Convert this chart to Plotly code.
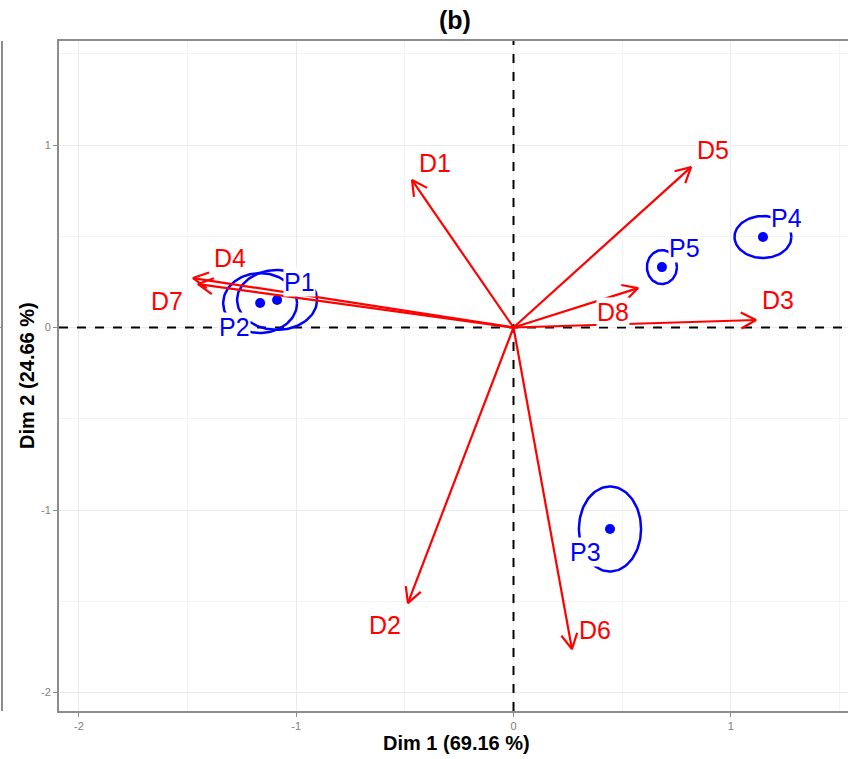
import numpy as np
import plotly.graph_objects as go

# ---------------- data ----------------
var_names = ["D1", "D2", "D3", "D4", "D5", "D6", "D7", "D8"]
var_x = [-0.467, -0.486, 1.116, -1.475, 0.817, 0.269, -1.452, 0.573]
var_y = [0.808, -1.510, 0.041, 0.271, 0.879, -1.762, 0.238, 0.216]
var_lab_x = [-0.361, -0.591, 1.217, -1.305, 0.918, 0.375, -1.595, 0.458]
var_lab_y = [0.901, -1.630, 0.151, 0.381, 0.973, -1.658, 0.145, 0.085]

ind_names = ["P1", "P2", "P3", "P4", "P5"]
ind_x = [-1.088, -1.166, 0.444, 1.148, 0.683]
ind_y = [0.151, 0.134, -1.104, 0.496, 0.331]
ind_lab_x = [-0.983, -1.282, 0.329, 1.258, 0.789]
ind_lab_y = [0.249, 0.003, -1.230, 0.600, 0.436]
ell_rx = [0.184, 0.170, 0.143, 0.131, 0.069]
ell_ry = [0.164, 0.164, 0.233, 0.115, 0.093]

x_ticks = [-2, -1, 0, 1]
y_ticks = [-2, -1, 0, 1]
title_text = "(b)"
x_title = "Dim 1 (69.16 %)"
y_title = "Dim 2 (24.66 %)"

# ---------------- layout geometry ----------------
W, H = 848, 759
ML, MR, MT, MB = 59, 0, 41, 48
PW, PH = W - ML - MR, H - MT - MB
x_range = [-2.0916, 1.5393]
y_range = [-2.1014, 1.5699]
sx = PW / (x_range[1] - x_range[0])
sy = PH / (y_range[1] - y_range[0])

def px2paper_x(px):
    return (px - ML) / PW

def py2paper_y(py):
    return (H - MB - py) / PH

RED = "#FF0000"
BLUE = "#0000FF"
FONT = "Liberation Sans, Arial"

fig = go.Figure()

# dashed reference lines
fig.add_trace(go.Scatter(x=x_range, y=[0, 0], mode="lines",
                         line=dict(color="black", width=2, dash="dash"),
                         hoverinfo="skip", showlegend=False))
fig.add_trace(go.Scatter(x=[0, 0], y=y_range, mode="lines",
                         line=dict(color="black", width=2, dash="dash"),
                         hoverinfo="skip", showlegend=False))

# ellipses
t = np.linspace(0, 2 * np.pi, 120)
for cx, cy, rx, ry in zip(ind_x, ind_y, ell_rx, ell_ry):
    fig.add_trace(go.Scatter(x=cx + rx * np.cos(t), y=cy + ry * np.sin(t),
                             mode="lines", line=dict(color=BLUE, width=2.5),
                             hoverinfo="skip", showlegend=False))

# points
fig.add_trace(go.Scatter(x=ind_x, y=ind_y, mode="markers",
                         marker=dict(color=BLUE, size=10),
                         hoverinfo="skip", showlegend=False))

# arrows (shaft + open arrowhead computed in pixel space)
head_len = 17.0
head_ang = np.deg2rad(28)
for tx, ty in zip(var_x, var_y):
    px, py = tx * sx, ty * sy
    ang = np.arctan2(py, px)
    hx, hy = [], []
    for s in (1, -1):
        a = ang + np.pi + s * head_ang
        hx.append(tx + head_len * np.cos(a) / sx)
        hy.append(ty + head_len * np.sin(a) / sy)
    xs = [0, tx, None, hx[0], tx, hx[1]]
    ys = [0, ty, None, hy[0], ty, hy[1]]
    fig.add_trace(go.Scatter(x=xs, y=ys, mode="lines",
                             line=dict(color=RED, width=2.2),
                             hoverinfo="skip", showlegend=False))

annotations = []
for n, lx, ly in zip(var_names, var_lab_x, var_lab_y):
    annotations.append(dict(x=lx, y=ly, xref="x", yref="y", text=n, showarrow=False,
                            font=dict(family=FONT, size=25, color=RED),
                            bgcolor="white", borderpad=0))
for n, lx, ly in zip(ind_names, ind_lab_x, ind_lab_y):
    annotations.append(dict(x=lx, y=ly, xref="x", yref="y", text=n, showarrow=False,
                            font=dict(family=FONT, size=25, color=BLUE),
                            bgcolor="white", borderpad=0))

annotations.append(dict(x=px2paper_x(455), y=py2paper_y(20), xref="paper", yref="paper",
                        text="<b>" + title_text + "</b>", showarrow=False,
                        font=dict(family=FONT, size=25, color="black"),
                        xanchor="center", yanchor="middle"))
annotations.append(dict(x=px2paper_x(457), y=py2paper_y(743), xref="paper", yref="paper",
                        text="<b>" + x_title + "</b>", showarrow=False,
                        font=dict(family=FONT, size=20, color="black"),
                        xanchor="center", yanchor="middle"))
annotations.append(dict(x=px2paper_x(27), y=0.5, xref="paper", yref="paper",
                        text="<b>" + y_title + "</b>", showarrow=False, textangle=-90,
                        font=dict(family=FONT, size=20, color="black"),
                        xanchor="center", yanchor="middle"))

axis_common = dict(showgrid=True, gridcolor="#EBEBEB", gridwidth=1.2,
                   zeroline=False, showline=True, linecolor="#8C8C8C", linewidth=2,
                   ticks="outside", ticklen=4, tickcolor="#8C8C8C", tickwidth=1,
                   tickfont=dict(family=FONT, size=11, color="#808080"),
                   minor=dict(dtick=0.5, showgrid=True, gridcolor="#F3F3F3", gridwidth=1))

fig.update_layout(
    width=W, height=H,
    margin=dict(l=ML, r=MR, t=MT, b=MB),
    paper_bgcolor="white", plot_bgcolor="white",
    xaxis=dict(range=x_range, tickvals=x_ticks, ticktext=[str(v) for v in x_ticks],
               mirror=True, **axis_common),
    yaxis=dict(range=y_range, tickvals=y_ticks, ticktext=[str(v) for v in y_ticks],
               mirror=False, **axis_common),
    annotations=annotations,
    shapes=[dict(type="line", xref="paper", yref="paper",
                 x0=px2paper_x(2), x1=px2paper_x(2), y0=0, y1=1,
                 line=dict(color="#8C8C8C", width=2)),
            dict(type="line", xref="paper", yref="paper",
                 x0=px2paper_x(0), x1=px2paper_x(2), y0=py2paper_y(327.5), y1=py2paper_y(327.5),
                 line=dict(color="#8C8C8C", width=1))],
    showlegend=False,
)

fig.write_html("out.html", config={"displayModeBar": False},
               post_script="document.body.style.margin='0';document.body.style.overflow='hidden';")
